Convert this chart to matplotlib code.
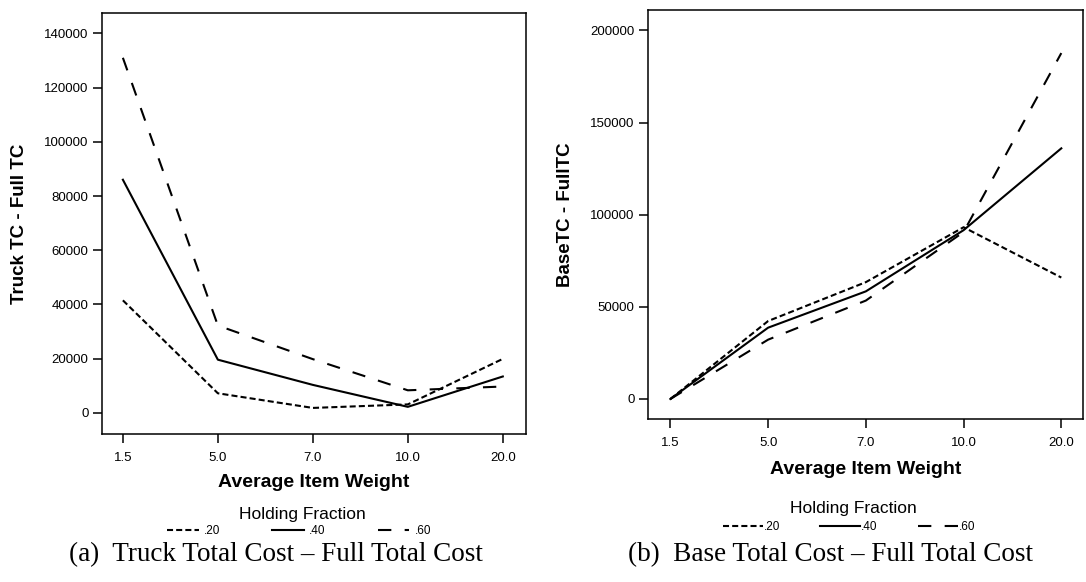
import matplotlib
matplotlib.use('Agg')
import matplotlib.pyplot as plt

# Average item weight categories (shared x axis)
weights = ['1.5', '5.0', '7.0', '10.0', '20.0']
fractions = ['.20', '.40', '.60']

# (a) Truck TC - Full TC, one list per holding fraction
truck_20 = [41500, 7200, 1800, 3100, 19900]
truck_40 = [86000, 19600, 10300, 2200, 13400]
truck_60 = [131000, 32200, 19800, 8300, 9700]

# (b) BaseTC - FullTC
base_20 = [0, 42300, 63400, 93200, 65900]
base_40 = [0, 38700, 58400, 91600, 136000]
base_60 = [0, 32200, 53400, 90600, 187700]

styles = [(0, (2.9, 1.5)), '-', (0, (6.4, 6.4))]

plt.rcParams['font.family'] = ['Liberation Sans', 'DejaVu Sans']

W, H = 1086, 582
fig = plt.figure(figsize=(W / 100, H / 100), dpi=100)
# axes boxes measured in pixels: left, top, right, bottom
ax1 = fig.add_axes([101.8 / W, 1 - 433.6 / H, (525.6 - 101.8) / W, (433.6 - 13.4) / H])
ax2 = fig.add_axes([647.6 / W, 1 - 419.4 / H, (1083.2 - 647.6) / W, (419.4 - 9.7) / H])

x = list(range(len(weights)))


def draw(ax, series, ylabel, yticks, ylim, xlim, xlab_y, ylab_x,
         leg_xy, title_xy, hlen, hpad, colsp):
    for vals, ls, lab in zip(series, styles, fractions):
        ax.plot(x, vals, color='black', linestyle=ls, linewidth=1.5, label=lab)
    ax.set_xticks(x)
    ax.set_xticklabels(weights)
    ax.set_yticks(yticks)
    ax.set_ylim(*ylim)
    ax.set_xlim(*xlim)
    ax.tick_params(direction='out', length=6.5, width=1.1, labelsize=9.5, pad=3)
    ax.tick_params(axis='x', pad=6.5)
    for sp in ax.spines.values():
        sp.set_linewidth(1.1)
    ax.set_xlabel('Average Item Weight', fontsize=14, fontweight='bold')
    ax.xaxis.label.set_va('center')
    ax.xaxis.set_label_coords(0.5, xlab_y)
    ax.set_ylabel(ylabel, fontsize=13.5, fontweight='bold')
    ax.yaxis.label.set_va('center')
    ax.yaxis.set_label_coords(ylab_x, 0.5)
    fig.text(title_xy[0] / W, 1 - title_xy[1] / H, 'Holding Fraction',
             fontsize=12.5, ha='center', va='center')
    ax.legend(loc='center', bbox_to_anchor=(leg_xy[0] / W, 1 - leg_xy[1] / H),
              bbox_transform=fig.transFigure, ncol=3, frameon=False,
              fontsize=8.5, handlelength=hlen, handletextpad=hpad,
              columnspacing=colsp, borderpad=0, borderaxespad=0)


draw(ax1, [truck_20, truck_40, truck_60], 'Truck TC - Full TC',
     [0, 20000, 40000, 60000, 80000, 100000, 120000, 140000],
     (-7675, 147380), (-0.222, 4.24), -0.1166, -0.195,
     (299, 531.5), (302, 514), 2.7, 0.42, 4.4)
draw(ax2, [base_20, base_40, base_60], 'BaseTC - FullTC',
     [0, 50000, 100000, 150000, 200000],
     (-11070, 211230), (-0.233, 4.224), -0.1225, -0.1885,
     (849, 527), (853, 508.5), 3.4, 0.05, 3.4)

fig.text(276 / W, 1 - 555 / H, '(a)  Truck Total Cost \u2013 Full Total Cost',
         family='Liberation Serif', fontsize=19.5, ha='center', va='center')
fig.text(830 / W, 1 - 555 / H, '(b)  Base Total Cost \u2013 Full Total Cost',
         family='Liberation Serif', fontsize=19.5, ha='center', va='center')

fig.savefig('out.png', dpi=100)
